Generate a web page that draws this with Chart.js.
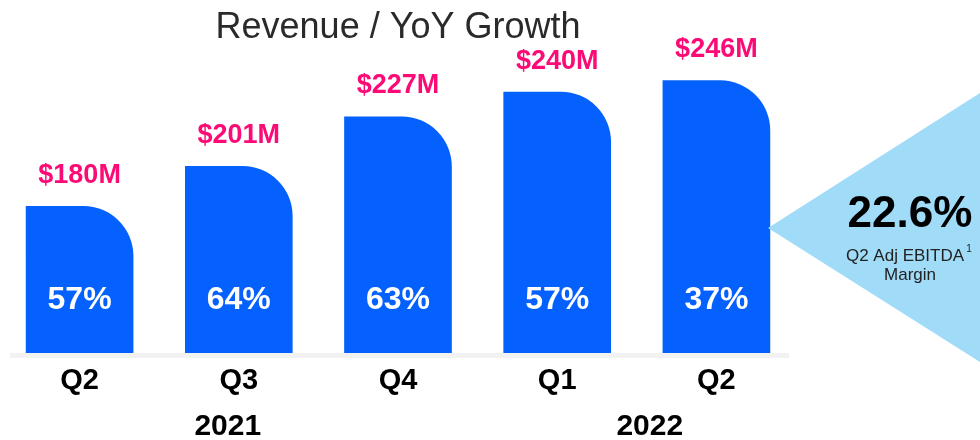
<!DOCTYPE html>
<html>
<head>
<meta charset="utf-8">
<script src="https://cdn.jsdelivr.net/npm/chart.js@4/dist/chart.umd.min.js"></script>
<style>
  html, body { margin: 0; padding: 0; background: #fff; }
  #wrap { width: 980px; height: 440px; }
</style>
</head>
<body>
<div id="wrap"><canvas id="revenueChart" width="980" height="440"></canvas></div>
<script>
// values
var quarters = ['Q2', 'Q3', 'Q4', 'Q1', 'Q2'];
var revenue = [180, 201, 227, 240, 246];          // $M
var revenueLabels = ['$180M', '$201M', '$227M', '$240M', '$246M'];
var yoyGrowth = ['57%', '64%', '63%', '57%', '37%'];
var years = ['2021', '2022'];
var yearSpans = [[0, 2], [3, 4]];                 // quarter index range for each year
var ebitdaMargin = '22.6%';

var BLUE = '#0561fe';
var PINK = '#fc0a76';
var FONT = "'Liberation Sans', Arial, sans-serif";

// text + decoration drawn on top of the bars
var slideText = {
    id: 'slideText',
    afterDatasetsDraw: function (chart) {
        var ctx = chart.ctx;
        var xs = chart.scales.x;
        var bars = chart.getDatasetMeta(0).data;
        ctx.save();

        // grey baseline
        ctx.fillStyle = '#f2f2f2';
        ctx.fillRect(10, chart.chartArea.bottom, 779, 5);

        ctx.textAlign = 'center';
        ctx.textBaseline = 'middle';

        for (var i = 0; i < bars.length; i++) {
            var b = bars[i];
            // revenue above bar
            ctx.fillStyle = PINK;
            ctx.font = 'bold 27px ' + FONT;
            ctx.fillText(revenueLabels[i], b.x, b.y - 31);
            // growth inside bar
            ctx.fillStyle = '#fff';
            ctx.font = 'bold 32px ' + FONT;
            ctx.fillText(yoyGrowth[i], b.x, 300);
            // quarter label
            ctx.fillStyle = '#000';
            ctx.font = 'bold 29px ' + FONT;
            ctx.fillText(quarters[i], xs.getPixelForValue(i), 381);
        }

        // years
        ctx.font = 'bold 30px ' + FONT;
        for (var j = 0; j < years.length; j++) {
            var x0 = xs.getPixelForValue(yearSpans[j][0]);
            var x1 = xs.getPixelForValue(yearSpans[j][1]);
            ctx.fillText(years[j], (x0 + x1) / 2 - (j == 0 ? 11 : -13), 427);
        }

        // EBITDA callout
        ctx.fillStyle = '#a0dbf8';
        ctx.beginPath();
        ctx.moveTo(768, 228);
        ctx.lineTo(980, 93);
        ctx.lineTo(980, 362);
        ctx.closePath();
        ctx.fill();

        ctx.fillStyle = '#000';
        ctx.font = 'bold 44px ' + FONT;
        ctx.fillText(ebitdaMargin, 910, 215);
        ctx.fillStyle = '#222';
        ctx.font = '17px ' + FONT;
        ctx.fillText('Q2 Adj EBITDA', 905, 256);
        ctx.font = '10px ' + FONT;
        ctx.fillText('1', 969, 249);
        ctx.font = '17px ' + FONT;
        ctx.fillText('Margin', 910, 275);

        ctx.restore();
    }
};

new Chart(document.getElementById('revenueChart'), {
    type: 'bar',
    data: {
        labels: quarters,
        datasets: [{
            data: revenue,
            backgroundColor: BLUE,
            borderRadius: { topLeft: 0, topRight: 50, bottomLeft: 0, bottomRight: 0 },
            borderSkipped: 'start',
            barThickness: 107
        }]
    },
    options: {
        responsive: false,
        animation: false,
        layout: { padding: { left: 0, right: 184, top: 0, bottom: 87 } },
        plugins: {
            legend: { display: false },
            tooltip: { enabled: false },
            title: {
                display: true,
                text: 'Revenue / YoY Growth',
                color: '#2a2a2a',
                font: { family: FONT, size: 36, weight: 'normal' },
                padding: { top: 6, bottom: 1 }
            }
        },
        scales: {
            x: { display: false },
            y: { display: false, min: 103, max: 262 }
        }
    },
    plugins: [slideText]
});
</script>
</body>
</html>
